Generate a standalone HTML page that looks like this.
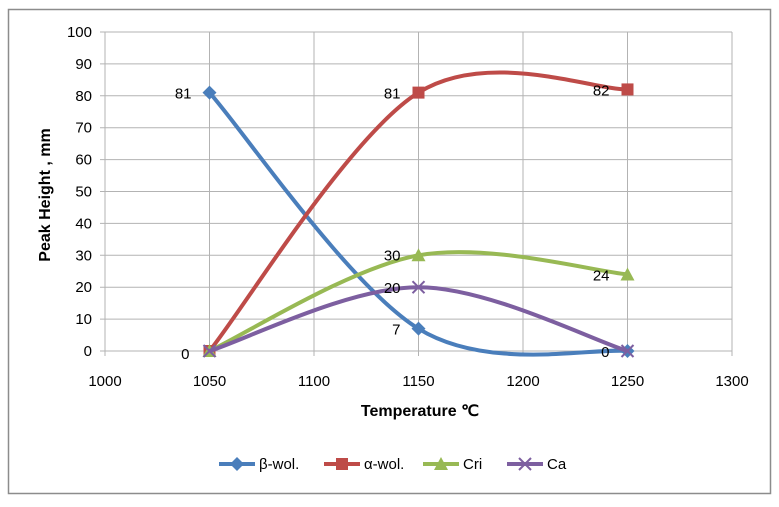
<!DOCTYPE html>
<html><head><meta charset="utf-8"><style>
body{margin:0;background:#fff;}
svg text{font-family:"Liberation Sans",sans-serif;}
</style></head><body>
<svg id="c" width="779" height="502" xmlns="http://www.w3.org/2000/svg">
<rect x="8.5" y="9.5" width="762" height="484" fill="#fff" stroke="#8c8c8c" stroke-width="1.5"/>
<g id="grid"></g><g id="series"></g><g id="labels"></g>
<text x="0" y="0" transform="translate(50,195) rotate(-90)" text-anchor="middle" font-size="16" font-weight="bold">Peak Height , mm</text>
<text x="420" y="416" text-anchor="middle" font-size="16" font-weight="bold">Temperature ℃</text>
<g id="legend"></g>
</svg>
<script>
const categories=[1050,1150,1250];
const seriesNames=["β-wol.","α-wol.","Cri","Ca"];
const betaWol=[81,7,0];
const alphaWol=[0,81,82];
const cri=[0,30,24];
const ca=[0,20,0];
const xTicks=[1000,1050,1100,1150,1200,1250,1300];
const yTicks=[0,10,20,30,40,50,60,70,80,90,100];
const colors=["#4a7ebb","#be4b48","#98b954","#7d5fa0"];
const allSeries=[betaWol,alphaWol,cri,ca];
const NS="http://www.w3.org/2000/svg";
const X=v=>105+(v-1000)/300*627;
const Y=v=>351-v/100*319;
function mk(t,a,p){const e=document.createElementNS(NS,t);for(const k in a)e.setAttribute(k,a[k]);p.appendChild(e);return e;}
const grid=document.getElementById('grid');
yTicks.forEach(v=>{
 const l=mk('line',{x1:100,x2:732,y1:Y(v),y2:Y(v),stroke:'#b3b3b3','stroke-width':1},grid);
 
 
 const t=mk('text',{x:92,y:Y(v)+5,'text-anchor':'end','font-size':15},grid);t.textContent=v;
 
 
});
xTicks.forEach(v=>{
 const l=mk('line',{x1:X(v),x2:X(v),y1:Y(100),y2:356,stroke:'#b3b3b3','stroke-width':1},grid);
 
 
 const t=mk('text',{x:X(v),y:386,'text-anchor':'middle','font-size':15},grid);t.textContent=v;
 
 
});
function smooth(pts){
 let d=`M${pts[0][0]},${pts[0][1]}`;
 for(let i=0;i<pts.length-1;i++){
  const p0=pts[i-1]||pts[i],p1=pts[i],p2=pts[i+1],p3=pts[i+2]||p2;
  const c1=[p1[0]+(p2[0]-p0[0])/6,p1[1]+(p2[1]-p0[1])/6];
  const c2=[p2[0]-(p3[0]-p1[0])/6,p2[1]-(p3[1]-p1[1])/6];
  d+=` C${c1[0]},${c1[1]} ${c2[0]},${c2[1]} ${p2[0]},${p2[1]}`;
 }
 return d;
}
function marker(k,x,y,g,c){
 let e;
 if(k==0)e=mk('path',{d:`M${x},${y-7}L${x+7},${y}L${x},${y+7}L${x-7},${y}Z`,fill:c},g);
 else if(k==1)e=mk('rect',{x:x-6,y:y-6,width:12,height:12,fill:c},g);
 else if(k==2)e=mk('path',{d:`M${x},${y-7}L${x+7},${y+6}L${x-7},${y+6}Z`,fill:c},g);
 else e=mk('path',{d:`M${x-6},${y-6}L${x+6},${y+6}M${x+6},${y-6}L${x-6},${y+6}`,stroke:c,'stroke-width':2},g);
 return e;
}
const sg=document.getElementById('series');
allSeries.forEach((s,k)=>{
 const pts=s.map((v,i)=>[X(categories[i]),Y(v)]);
 const p=mk('path',{d:smooth(pts),fill:'none',stroke:colors[k],'stroke-width':4},sg);
 
 
 pts.forEach(q=>{const m=marker(k,q[0],q[1],sg,colors[k]);
  
  });
});
const lg=document.getElementById('labels');
const labs=[[0,0,-6,6],[0,1,-6,6],[0,2,-6,6],[1,0,-8,8],[1,1,-6,6],[1,2,-6,6],[2,1,-6,5],[2,2,-6,6],[3,1,-6,6]];
labs.forEach(a=>{const [k,i,dx,dy]=a;const v=allSeries[k][i];
 const t=mk('text',{x:X(categories[i])+dx-12,y:Y(v)+dy,'text-anchor':'end','font-size':15},lg);t.textContent=v;
 
 
});
const leg=document.getElementById('legend');
const lx=[219,324,423,507];
seriesNames.forEach((n,k)=>{
 const g=mk('g',{},leg);
 
 
 mk('line',{x1:lx[k],x2:lx[k]+36,y1:464,y2:464,stroke:colors[k],'stroke-width':4},g);
 marker(k,lx[k]+18,464,g,colors[k]);
 const t=mk('text',{x:lx[k]+40,y:469,'font-size':15},g);t.textContent=n;
});
</script>
</body></html>
